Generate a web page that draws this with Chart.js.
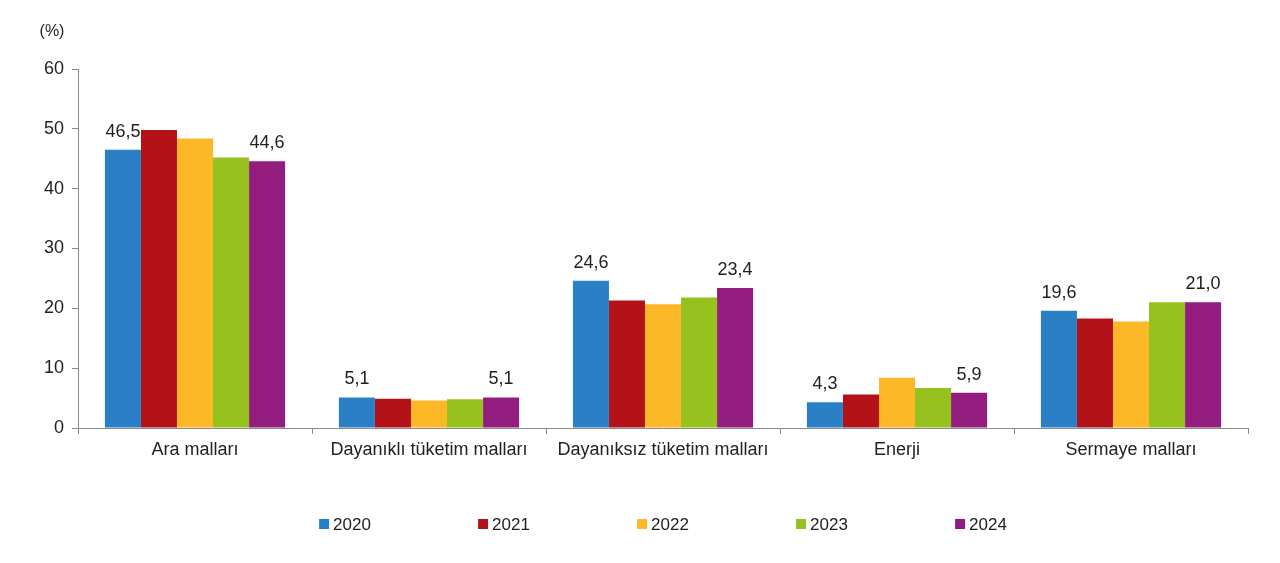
<!DOCTYPE html>
<html>
<head>
<meta charset="utf-8">
<script src="https://cdn.jsdelivr.net/npm/chart.js@4/dist/chart.umd.min.js"></script>
<style>
    html, body { margin: 0; padding: 0; background: #fff; }
    #wrap { width: 1280px; height: 563px; }
</style>
</head>
<body>
<div id="wrap"><canvas id="chart"></canvas></div>
<script>
const categories = ['Ara malları', 'Dayanıklı tüketim malları', 'Dayanıksız tüketim malları', 'Enerji', 'Sermaye malları'];
const years = ['2020', '2021', '2022', '2023', '2024'];
const colors = ['#2a7fc5', '#b31318', '#fdb827', '#96c11f', '#931c7f'];

const v2020 = [46.5, 5.1, 24.6, 4.3, 19.6];
const v2021 = [49.8, 4.9, 21.3, 5.6, 18.3];
const v2022 = [48.4, 4.6, 20.7, 8.4, 17.8];
const v2023 = [45.2, 4.8, 21.8, 6.7, 21.0];
const v2024 = [44.6, 5.1, 23.4, 5.9, 21.0];
const yTicks = [0, 10, 20, 30, 40, 50, 60];

// only first and last year get a value label
const labelled = [0, 4];

const FONT = "'Liberation Sans', Arial, sans-serif";
const TEXT = '#222';

const valueLabels = {
    id: 'valueLabels',
    afterDatasetsDraw(chart) {
        const ctx = chart.ctx;
        ctx.save();
        ctx.font = '18px ' + FONT;
        ctx.fillStyle = TEXT;
        ctx.textAlign = 'center';
        ctx.textBaseline = 'bottom';
        labelled.forEach(di => {
            const meta = chart.getDatasetMeta(di);
            meta.data.forEach((bar, i) => {
                const v = chart.data.datasets[di].data[i];
                ctx.fillText(v.toFixed(1).replace('.', ','), bar.x, bar.y - 9);
            });
        });
        ctx.restore();
    }
};

const extras = {
    id: 'extras',
    afterDraw(chart) {
        const ctx = chart.ctx;
        const area = chart.chartArea;
        ctx.save();
        ctx.fillStyle = TEXT;
        ctx.font = '16px ' + FONT;
        ctx.textAlign = 'center';
        ctx.textBaseline = 'middle';
        ctx.fillText('(%)', 52, 32);

        // legend row
        const box = 10, gap = 4, step = 159;
        ctx.font = '17px ' + FONT;
        const itemW = box + gap + ctx.measureText('2020').width;
        const total = step * (years.length - 1) + itemW;
        let x = (area.left + area.right) / 2 - total / 2;
        const y = 524;
        ctx.textAlign = 'left';
        years.forEach((yr, i) => {
            ctx.fillStyle = colors[i];
            ctx.fillRect(x, y - box / 2, box, box);
            ctx.fillStyle = TEXT;
            ctx.fillText(yr, x + box + gap, y + 1);
            x += step;
        });
        ctx.restore();
    }
};

const series = [v2020, v2021, v2022, v2023, v2024];

new Chart(document.getElementById('chart'), {
    type: 'bar',
    data: {
        labels: categories,
        datasets: series.map((d, i) => ({
            label: years[i],
            data: d,
            backgroundColor: colors[i],
            borderWidth: 0,
            categoryPercentage: 0.77,
            barPercentage: 1.0
        }))
    },
    options: {
        responsive: true,
        maintainAspectRatio: false,
        animation: false,
        layout: { padding: { top: 69, right: 32, bottom: 75, left: 0 } },
        plugins: {
            legend: { display: false },
            tooltip: { enabled: false }
        },
        scales: {
            x: {
                offset: true,
                grid: { display: true, drawOnChartArea: false, offset: true, tickLength: 6, color: '#888' },
                border: { color: '#888' },
                ticks: { color: TEXT, font: { size: 18, family: FONT }, padding: 5, maxRotation: 0, autoSkip: false },
                afterFit(scale) { scale.height = 60; }
            },
            y: {
                min: 0,
                max: 60,
                afterBuildTicks(scale) { scale.ticks = yTicks.map(v => ({ value: v })); },
                grid: { drawOnChartArea: false, tickLength: 6, color: '#888' },
                border: { color: '#888' },
                ticks: { color: TEXT, font: { size: 18, family: FONT }, padding: 8 },
                afterFit(scale) { scale.width = 78; }
            }
        }
    },
    plugins: [valueLabels, extras]
});
</script>
</body>
</html>
